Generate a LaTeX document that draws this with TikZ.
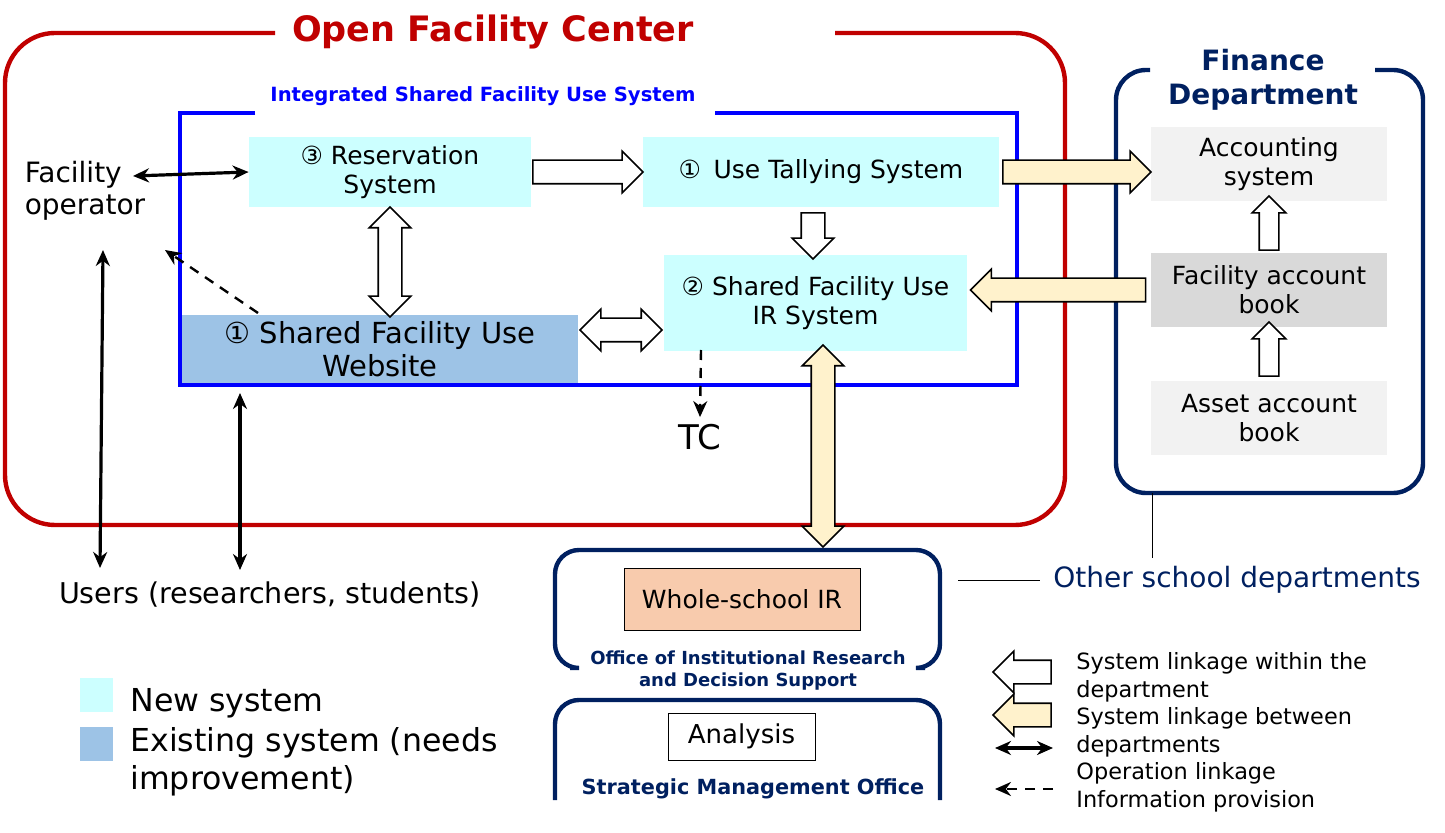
\documentclass[tikz,border=0pt]{standalone}
\usepackage{fontspec}
\setmainfont{DejaVu Sans}
\usetikzlibrary{shapes.arrows,arrows.meta}
\definecolor{ofc}{HTML}{C00000}
\definecolor{navy}{HTML}{002060}
\definecolor{newc}{HTML}{CCFFFF}
\definecolor{oldc}{HTML}{9DC3E6}
\definecolor{cream}{HTML}{FFF2CC}
\definecolor{lg}{HTML}{F2F2F2}
\definecolor{mg}{HTML}{D9D9D9}
\definecolor{peach}{HTML}{F8CBAD}
\tikzset{
 box/.style={draw=none,inner sep=0pt,align=center,font=\fontsize{12.5}{14.5}\selectfont},
 harr/.style={single arrow,draw=black,fill=white,thick,minimum width=0pt,inner sep=5.5pt,single arrow head extend=4.5pt,single arrow tip angle=90},
 sarr/.style={harr,inner sep=4.5pt,single arrow head extend=3.5pt},
 hdarr/.style={double arrow,draw=black,fill=white,thick,minimum width=0pt,inner sep=5.5pt,double arrow head extend=4.5pt,double arrow tip angle=90},
 carr/.style={harr,fill=cream,draw=black},
 cdarr/.style={hdarr,fill=cream,draw=black},
 link/.style={line width=1.6pt,{Stealth[length=8pt,width=7pt]}-{Stealth[length=8pt,width=7pt]}},
 info/.style={line width=1.2pt,dash pattern=on 5pt off 4pt,-{Stealth[length=8pt,width=7pt]}},
 txt/.style={font=\fontsize{14}{16}\selectfont,align=left,inner sep=0pt},
}
\begin{document}
\begin{tikzpicture}[x=0.5pt,y=-0.5pt]
\useasboundingbox (0,0) rectangle (1445,833);
% Open Facility Center
\draw[ofc,line width=2.2pt,rounded corners=25pt] (275,33) -- (5,33) -- (5,525) -- (1065,525) -- (1065,33) -- (835,33);
\node[text=ofc,font=\bfseries\fontsize{17.5}{20}\selectfont] (ofct) at (493,32) {Open Facility Center};
% Integrated
\draw[blue,line width=1.6pt] (255,113) -- (180,113) -- (180,385) -- (1017,385) -- (1017,113) -- (715,113);
\node[text=blue,font=\bfseries\fontsize{9.8}{11}\selectfont] (ist) at (483,96) {Integrated Shared Facility Use System};
% boxes
\node[box,fill=newc,minimum width=141pt,minimum height=35pt] (res) at (390,172) {③ Reservation\\System};
\node[box,fill=newc,minimum width=178pt,minimum height=35pt] (tal) at (821,172) {①\enspace Use Tallying System};
\node[box,fill=newc,minimum width=151.5pt,minimum height=48pt] (ir) at (815.5,303) {② Shared Facility Use\\IR System};
\node[box,fill=oldc,minimum width=198pt,minimum height=34pt,font=\fontsize{14.5}{16.5}\selectfont] (web) at (380,349) {① Shared Facility Use\\Website};
% Finance
\draw[navy,line width=2.2pt,rounded corners=15pt] (1150,70) -- (1116,70) -- (1116,493) -- (1423,493) -- (1423,70) -- (1375,70);
\node[text=navy,font=\bfseries\fontsize{14}{17}\selectfont,align=center] (fin) at (1263,80) {Finance\\Department};
\node[box,fill=lg,minimum width=118pt,minimum height=37pt] (acc) at (1269,164) {Accounting\\system};
\node[box,fill=mg,minimum width=118pt,minimum height=37pt] (fab) at (1269,290) {Facility account\\book};
\node[box,fill=lg,minimum width=118pt,minimum height=37pt] (aab) at (1269,418) {Asset account\\book};
\node[sarr,rotate=90,minimum height=27pt] (a1) at (1269,228) {};
\node[sarr,rotate=90,minimum height=27pt] (a2) at (1269,354) {};
% IR office
\draw[navy,line width=2.2pt,rounded corners=12pt] (570,668) -- (555,668) -- (555,550) -- (940,550) -- (940,668) -- (925,668);
\node[text=navy,font=\bfseries\fontsize{9}{11}\selectfont,align=center] (irot) at (748,671) {Office of Institutional Research\\and Decision Support};
\node[box,fill=peach,draw=black,thin,minimum width=118pt,minimum height=31pt] (wir) at (742,599) {Whole-school IR};
\draw[navy,line width=2.2pt,rounded corners=12pt] (555,800) -- (555,700) -- (940,700) -- (940,800);
\node[text=navy,font=\bfseries\fontsize{10.4}{12}\selectfont] (smo) at (753,789) {Strategic Management Office};
\node[box,fill=white,draw=black,minimum width=73.5pt,minimum height=23.5pt,font=\fontsize{13}{15}\selectfont] (ana) at (741.5,736.5) {Analysis};
% other depts
\node[text=navy,font=\fontsize{14}{16}\selectfont,inner sep=0pt] (osd) at (1237,580) {Other school departments};
\coordinate (osl) at (958,580);
\coordinate (ose) at (1040,580);
\draw (osl) -- (ose);
\coordinate (fb) at (1152,493);
\coordinate (fb2) at (1152,558);
\draw (fb) -- (fb2);
% operator & users
\node[txt] (op) at (85,191) {Facility\\operator};
\coordinate (opr) at (133,176);
\draw[link] (opr) -- (res.west);
\coordinate (ds) at (258,313);
\coordinate (de) at (165,250);
\draw[info] (ds) -- (de);
\node[txt,font=\fontsize{14.3}{16}\selectfont] (usr) at (270,595) {Users (researchers, students)};
\coordinate (u1a) at (103,250); \coordinate (u1b) at (100,568);
\coordinate (u2a) at (240,393); \coordinate (u2b) at (240,570);
\draw[link] (u1a) -- (u1b);
\draw[link] (u2a) -- (u2b);
% TC
\node[font=\fontsize{17}{20}\selectfont] (tc) at (700,437) {TC};
\coordinate (tcs) at (701,350);
\draw[info] (tcs) -- (tc.north);
% hollow arrows
\node[harr,minimum height=55pt] (h1) at (582,172) {};
\node[harr,rotate=-90,minimum height=23pt] (h2) at (813,230) {};
\node[hdarr,rotate=90,minimum height=55pt] (h3) at (390,262) {};
\node[hdarr,minimum height=41pt] (h4) at (621,330) {};
\node[carr,minimum height=74pt] (c1) at (1071,172) {};
\node[carr,rotate=180,minimum height=87.5pt] (c2) at (1064,290) {};
\node[cdarr,rotate=90,minimum height=101pt] (c3) at (823,446) {};
% legend
\node[fill=newc,minimum width=16.5pt,minimum height=17pt,inner sep=0pt] (ln) at (96,695) {};
\node[fill=oldc,minimum width=16.5pt,minimum height=17pt,inner sep=0pt] (lo) at (96,744) {};
\node[txt,font=\fontsize{15.8}{19}\selectfont,anchor=west] (lnt) at (130,703) {New system};
\node[txt,font=\fontsize{15.8}{19}\selectfont,anchor=north west] (lot) at (130,727) {Existing system (needs\\improvement)};
\node[harr,rotate=180,minimum height=29pt] (lg1) at (1028,672) {};
\node[carr,rotate=180,minimum height=29pt] (lg2) at (1028,715) {};
\coordinate (l3a) at (995,748); \coordinate (l3b) at (1053,748);
\draw[link] (l3a) -- (l3b);
\coordinate (l4a) at (1053,789); \coordinate (l4b) at (995,789);
\draw[info] (l4a) -- (l4b);
\node[anchor=north west,align=left,font=\fontsize{11.2}{13.8}\selectfont,inner sep=0pt] (lgt) at (1076,652) {System linkage within the\\department\\System linkage between\\departments\\Operation linkage\\Information provision};
\end{tikzpicture}
\end{document}
